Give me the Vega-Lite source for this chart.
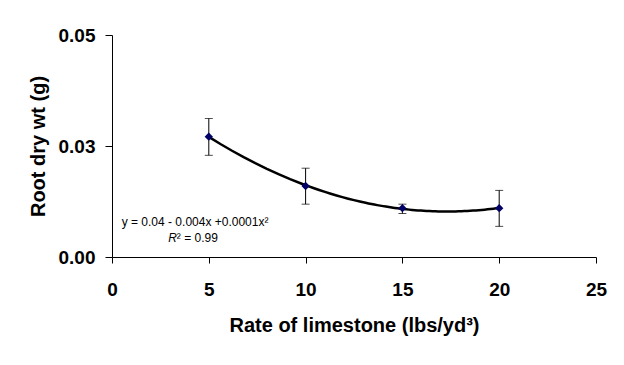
{
  "$schema": "https://vega.github.io/schema/vega-lite/v6.json",
  "width": 484,
  "height": 222,
  "autosize": "none",
  "padding": {"left": 112, "top": 35, "right": 28, "bottom": 108},
  "background": "white",
  "config": {
    "view": {"stroke": null},
    "font": "Liberation Sans",
    "axis": {
      "grid": false,
      "domainColor": "black",
      "domainWidth": 1,
      "tickColor": "black",
      "tickWidth": 1,
      "labelColor": "black",
      "titleColor": "black",
      "labelFont": "Liberation Sans",
      "titleFont": "Liberation Sans",
      "labelFontWeight": "bold",
      "titleFontWeight": "bold",
      "labelFontSize": 19,
      "titleFontSize": 20,
      "labelFlush": false,
      "labelOverlap": false
    }
  },
  "datasets": {
    "pts": [
      {"rate": 5, "wt": 0.0271, "lo": 0.0229, "hi": 0.0312},
      {"rate": 10, "wt": 0.0160, "lo": 0.0119, "hi": 0.0200},
      {"rate": 15, "wt": 0.0110, "lo": 0.0098, "hi": 0.0119},
      {"rate": 20, "wt": 0.0110, "lo": 0.0069, "hi": 0.0150}
    ],
    "eq": [
      {"x": 4.29, "y": 0.0078, "label": "y = 0.04 - 0.004x +0.0001x²"}
    ],
    "r2": [
      {"x": 3.35, "y": 0.0042, "r": "R", "rest": "² = 0.99"}
    ]
  },
  "layer": [
    {
      "data": {"name": "pts"},
      "transform": [
        {"regression": "wt", "on": "rate", "method": "poly", "order": 2, "extent": [5, 20]}
      ],
      "mark": {"type": "line", "color": "black", "strokeWidth": 2.5},
      "encoding": {
        "x": {
          "field": "rate", "type": "quantitative",
          "scale": {"domain": [0, 25], "nice": false},
          "axis": {"values": [0, 5, 10, 15, 20, 25], "tickSize": 6, "labelPadding": 17, "titlePadding": 16,
                   "title": "Rate of limestone (lbs/yd³)"}
        },
        "y": {
          "field": "wt", "type": "quantitative",
          "scale": {"domain": [0, 0.05], "nice": false, "zero": true},
          "axis": {"values": [0, 0.025, 0.05], "format": ".2f", "tickSize": 7, "labelPadding": 10, "titlePadding": 10,
                   "title": "Root dry wt (g)"}
        }
      }
    },
    {
      "data": {"name": "pts"},
      "mark": {"type": "rule", "color": "black", "strokeWidth": 1},
      "encoding": {
        "x": {"field": "rate", "type": "quantitative"},
        "y": {"field": "lo", "type": "quantitative"},
        "y2": {"field": "hi"}
      }
    },
    {
      "data": {"name": "pts"},
      "mark": {"type": "tick", "orient": "horizontal", "color": "black", "thickness": 1, "size": 8},
      "encoding": {
        "x": {"field": "rate", "type": "quantitative"},
        "y": {"field": "lo", "type": "quantitative"}
      }
    },
    {
      "data": {"name": "pts"},
      "mark": {"type": "tick", "orient": "horizontal", "color": "black", "thickness": 1, "size": 8},
      "encoding": {
        "x": {"field": "rate", "type": "quantitative"},
        "y": {"field": "hi", "type": "quantitative"}
      }
    },
    {
      "data": {"name": "pts"},
      "mark": {"type": "point", "shape": "diamond", "filled": true, "color": "#000066", "size": 70, "opacity": 1},
      "encoding": {
        "x": {"field": "rate", "type": "quantitative"},
        "y": {"field": "wt", "type": "quantitative"}
      }
    },
    {
      "data": {"name": "eq"},
      "mark": {"type": "text", "font": "Liberation Sans", "fontSize": 12, "color": "black", "align": "center", "baseline": "middle"},
      "encoding": {
        "x": {"field": "x", "type": "quantitative"},
        "y": {"field": "y", "type": "quantitative"},
        "text": {"field": "label"}
      }
    },
    {
      "data": {"name": "r2"},
      "mark": {"type": "text", "font": "Liberation Sans", "fontSize": 12, "fontStyle": "italic", "color": "black", "align": "right", "baseline": "middle"},
      "encoding": {
        "x": {"field": "x", "type": "quantitative"},
        "y": {"field": "y", "type": "quantitative"},
        "text": {"field": "r"}
      }
    },
    {
      "data": {"name": "r2"},
      "mark": {"type": "text", "font": "Liberation Sans", "fontSize": 12, "color": "black", "align": "left", "baseline": "middle"},
      "encoding": {
        "x": {"field": "x", "type": "quantitative"},
        "y": {"field": "y", "type": "quantitative"},
        "text": {"field": "rest"}
      }
    }
  ]
}
